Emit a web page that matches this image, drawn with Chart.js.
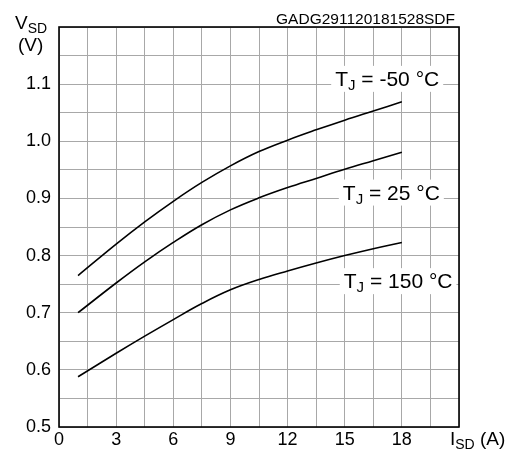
<!DOCTYPE html>
<html>
<head>
<meta charset="utf-8">
<script src="https://cdn.jsdelivr.net/npm/chart.js@4.4.0/dist/chart.umd.min.js"></script>
<style>
  body { margin: 0; background: #fff; }
  canvas { display: block; }
</style>
</head>
<body>
<canvas id="myChart" width="517" height="452"></canvas>
<script>
// I_SD (A)
const currents = [1, 3, 4.5, 6, 7.5, 9, 10.5, 12, 13.5, 15, 16.5, 18];
// V_SD (V) for each junction temperature
const vMinus50 = [0.765, 0.820, 0.859, 0.895, 0.928, 0.957, 0.982, 1.002, 1.020, 1.037, 1.053, 1.069];
const v25 = [0.700, 0.752, 0.789, 0.823, 0.854, 0.880, 0.901, 0.919, 0.935, 0.951, 0.966, 0.981];
const v150 = [0.588, 0.629, 0.659, 0.688, 0.716, 0.740, 0.758, 0.773, 0.787, 0.800, 0.812, 0.823];
const tempLabels = ['-50 °C', '25 °C', '150 °C'];
// where the curve labels sit (left x in A, baseline in V)
const labelX = [14.5, 14.9, 14.95];
const labelY = [1.097, 0.898, 0.743];

const FONT = '"Liberation Sans", Arial, sans-serif';

function toPoints(ys) {
    return currents.map((x, i) => ({ x: x, y: ys[i] }));
}

function drawSub(ctx, main, sub, rest, x, y, size) {
    ctx.font = size + 'px ' + FONT;
    ctx.fillText(main, x, y);
    x += ctx.measureText(main).width;
    const subSize = Math.round(size * 0.72);
    ctx.font = subSize + 'px ' + FONT;
    ctx.fillText(sub, x, y + size * 0.2);
    x += ctx.measureText(sub).width;
    ctx.font = size + 'px ' + FONT;
    ctx.fillText(rest, x, y);
    return x + ctx.measureText(rest).width;
}

const extras = {
    id: 'extras',
    afterDatasetsDraw(chart) {
        const ctx = chart.ctx;
        const xs = chart.scales.x, ys = chart.scales.y;
        ctx.save();
        ctx.textBaseline = 'alphabetic';
        ctx.textAlign = 'left';
        tempLabels.forEach((t, i) => {
            const px = xs.getPixelForValue(labelX[i]);
            const py = ys.getPixelForValue(labelY[i]);
            ctx.font = '21px ' + FONT;
            let w = ctx.measureText('T').width;
            ctx.font = '15px ' + FONT;
            w += ctx.measureText('J').width;
            ctx.font = '21px ' + FONT;
            w += ctx.measureText(' = ' + t).width;
            ctx.fillStyle = '#fff';
            ctx.fillRect(px - 4, py - 20, w + 8, 26);
            ctx.fillStyle = '#000';
            drawSub(ctx, 'T', 'J', ' = ' + t, px, py, 21);
        });
        ctx.restore();
    },
    afterDraw(chart) {
        const ctx = chart.ctx;
        const a = chart.chartArea;
        ctx.save();
        ctx.strokeStyle = '#000';
        ctx.lineWidth = 1.6;
        ctx.strokeRect(a.left, a.top, a.right - a.left, a.bottom - a.top);
        ctx.fillStyle = '#000';
        ctx.textBaseline = 'alphabetic';
        ctx.textAlign = 'left';
        drawSub(ctx, 'V', 'SD', '', 15, 29, 19);
        ctx.font = '19px ' + FONT;
        ctx.fillText('(V)', 18, 51);
        drawSub(ctx, 'I', 'SD', ' (A)', 450, 445, 19);
        ctx.font = '15.5px ' + FONT;
        ctx.textAlign = 'right';
        ctx.fillText('GADG291120181528SDF', 455, 24);
        ctx.restore();
    }
};

new Chart(document.getElementById('myChart'), {
    type: 'line',
    data: {
        datasets: [
            { data: toPoints(vMinus50) },
            { data: toPoints(v25) },
            { data: toPoints(v150) }
        ]
    },
    options: {
        responsive: false,
        animation: false,
        events: [],
        layout: { padding: { left: 0, top: 27, right: 58, bottom: 0 } },
        elements: {
            line: { borderColor: '#000', borderWidth: 1.6, tension: 0.4 },
            point: { radius: 0 }
        },
        plugins: {
            legend: { display: false },
            tooltip: { enabled: false }
        },
        scales: {
            x: {
                type: 'linear',
                min: 0,
                max: 21,
                afterFit: s => { s.height = 25; },
                grid: { color: '#a8a8a8', lineWidth: 1, drawTicks: false },
                border: { display: false },
                ticks: {
                    stepSize: 1.5,
                    autoSkip: false,
                    maxRotation: 0,
                    padding: 2,
                    color: '#000',
                    font: { family: FONT, size: 18 },
                    callback: v => (Math.abs(v % 3) < 1e-6 && v < 20) ? String(v) : ''
                }
            },
            y: {
                min: 0.5,
                max: 1.2,
                afterFit: s => { s.width = 59; },
                grid: { color: '#a8a8a8', lineWidth: 1, drawTicks: false },
                border: { display: false },
                ticks: {
                    stepSize: 0.05,
                    autoSkip: false,
                    padding: 8,
                    color: '#000',
                    font: { family: FONT, size: 18 },
                    callback: v => {
                        const k = Math.round(v * 100);
                        return (k % 10 === 0 && k <= 110) ? (k / 100).toFixed(1) : '';
                    }
                }
            }
        }
    },
    plugins: [extras]
});
</script>
</body>
</html>
